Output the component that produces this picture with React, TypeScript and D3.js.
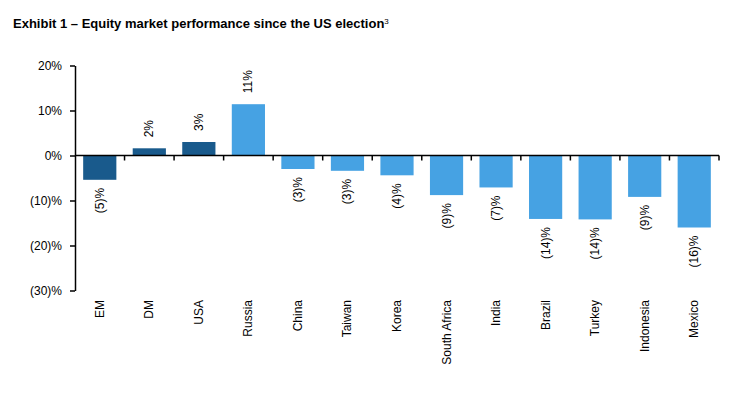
import React, { useEffect, useRef } from 'react'
import * as d3 from 'd3'

const categories = ['EM', 'DM', 'USA', 'Russia', 'China', 'Taiwan', 'Korea', 'South Africa', 'India', 'Brazil', 'Turkey', 'Indonesia', 'Mexico']
const values = [-5.4, 1.6, 3.0, 11.4, -3.0, -3.4, -4.4, -8.8, -7.1, -14.1, -14.2, -9.2, -16.0]
const labels = ['(5)%', '2%', '3%', '11%', '(3)%', '(3)%', '(4)%', '(9)%', '(7)%', '(14)%', '(14)%', '(9)%', '(16)%']
const darkGroup = ['EM', 'DM', 'USA']
const yTicks = [20, 10, 0, -10, -20, -30]

const fmtTick = (v: number) => (v < 0 ? `(${-v})%` : `${v}%`)

export default function App() {
  const ref = useRef<SVGSVGElement>(null)
  useEffect(() => {
    const el = ref.current
    if (!el) return
    const svg = d3.select(el)
    svg.selectAll('*').remove()
    const font = 'Arial, "Liberation Sans", sans-serif'

    const x = d3.scaleBand().domain(categories).range([75, 719]).paddingInner(0.33).paddingOuter(0.165)
    const y = d3.scaleLinear().domain([-30, 20]).range([290.5, 65.5])

    // title
    const title = svg.append('text').attr('x', 13).attr('y', 28)
      .attr('font-family', font).attr('font-size', 13).attr('font-weight', 'bold').attr('fill', '#000')
    title.append('tspan').text('Exhibit 1 – Equity market performance since the US election')
    title.append('tspan').attr('font-size', 8).attr('dy', -4).attr('font-weight', 'normal').text('3')

    // bars
    svg.append('g').selectAll('rect').data(categories).enter().append('rect')
      .attr('x', d => x(d)!)
      .attr('width', x.bandwidth())
      .attr('y', (d, i) => y(Math.max(0, values[i])))
      .attr('height', (d, i) => Math.abs(y(values[i]) - y(0)))
      .attr('fill', d => darkGroup.includes(d) ? '#195a8c' : '#46a2e3')

    // y axis
    const yAxis = svg.append('g').attr('transform', 'translate(75,0)')
      .call(d3.axisLeft(y).tickValues(yTicks).tickFormat(d => fmtTick(+d)).tickSize(5).tickSizeOuter(0).tickPadding(8))
    yAxis.select('.domain').attr('stroke', '#000').attr('stroke-width', 1.5)
    yAxis.selectAll('.tick line').attr('stroke', '#000').attr('stroke-width', 1.5)
    yAxis.selectAll('.tick text').attr('font-family', font).attr('font-size', 12).attr('fill', '#000')

    // zero line with category separators
    const bounds = d3.range(categories.length + 1).map(i => 75 + i * x.step())
    const xAxis = svg.append('g')
    xAxis.append('line').attr('x1', 75).attr('x2', 719).attr('y1', y(0)).attr('y2', y(0))
      .attr('stroke', '#000').attr('stroke-width', 1.5)
    xAxis.selectAll('line.sep').data(bounds.slice(1)).enter().append('line').attr('class', 'sep')
      .attr('x1', d => d).attr('x2', d => d).attr('y1', y(0)).attr('y2', y(0) + 5)
      .attr('stroke', '#000').attr('stroke-width', 1.5)

    // category labels
    svg.append('g').selectAll('text').data(categories).enter().append('text')
      .attr('transform', d => `translate(${x(d)! + x.bandwidth() / 2 + 4},300) rotate(-90)`)
      .attr('text-anchor', 'end')
      .attr('font-family', font).attr('font-size', 12).attr('fill', '#000')
      .text(d => d)

    // value labels
    svg.append('g').selectAll('text').data(categories).enter().append('text')
      .attr('transform', (d, i) => {
        const cx = x(d)! + x.bandwidth() / 2 + 4
        const v = values[i]
        const yy = v >= 0 ? y(v) - 11 : y(v) + 8
        return `translate(${cx},${yy}) rotate(-90)`
      })
      .attr('text-anchor', (d, i) => values[i] >= 0 ? 'start' : 'end')
      .attr('font-family', font).attr('font-size', 12).attr('fill', '#000')
      .text((d, i) => labels[i])
  }, [])

  return (
    <svg ref={ref} width={741} height={394} style={{ position: 'absolute', left: 0, top: 0, background: '#fff' }} />
  )
}
